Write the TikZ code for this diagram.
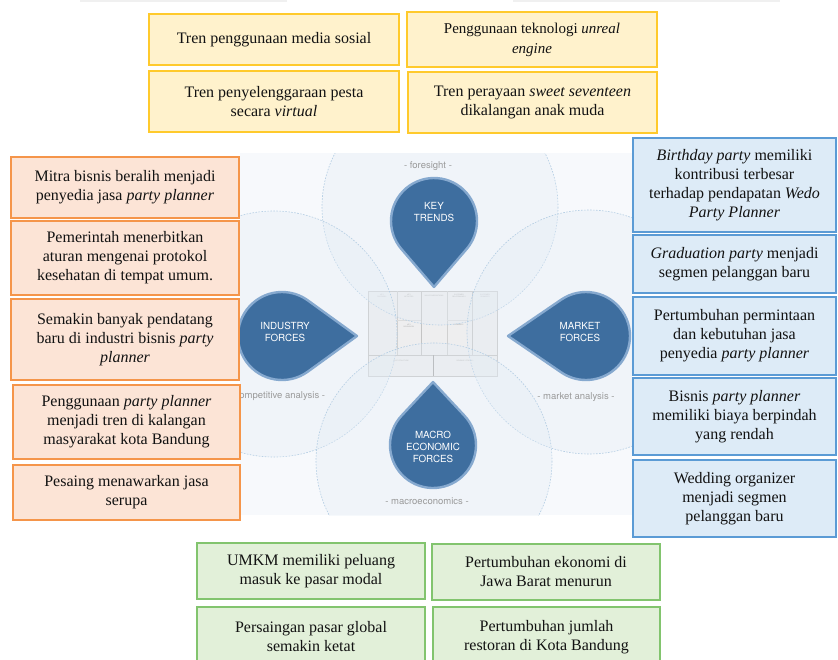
\documentclass[tikz,border=0pt]{standalone}
\usepackage{fontspec}
\setmainfont{Liberation Serif}
\setsansfont{TeX Gyre Heros}
\usetikzlibrary{calc}

\definecolor{ink}{HTML}{121212}
\definecolor{trendfill}{HTML}{FFF2CC}
\definecolor{trendline}{HTML}{FFCA2C}
\definecolor{indfill}{HTML}{FCE4D6}
\definecolor{indline}{HTML}{F5954A}
\definecolor{mktfill}{HTML}{DDEBF7}
\definecolor{mktline}{HTML}{5B9BD5}
\definecolor{macfill}{HTML}{E2F0D9}
\definecolor{macline}{HTML}{82C46E}
\definecolor{dropfill}{HTML}{3E6E9F}
\definecolor{dropring}{HTML}{86A9CF}
\definecolor{lensline}{HTML}{B3CDE3}
\definecolor{lensfill}{HTML}{E4EDF6}
\definecolor{envtint}{HTML}{F7F9FC}
\definecolor{labelgray}{HTML}{9A9A9A}
\definecolor{canvasfill}{HTML}{ECECEC}
\definecolor{canvasline}{HTML}{C4C4C4}

% a box given by its corners (x1,y1) and (x2,y2)
\newcommand\infobox[7]{%
  \node[#2, minimum width={(#5)-(#3)}, minimum height={(#6)-(#4)}]
    (#1) at ({((#3)+(#5))/2},{((#4)+(#6))/2}) {#7};}

% a drop: circle (centre #2,#3, radius #4) pointing towards angle #5, tip at distance #6
\newcommand\waterdrop[6]{%
  \coordinate (#1c) at (#2,#3);
  \coordinate (#1tip) at ($(#1c)+(#5:#6)$);
  \draw[drop] (#1tip) -- ($(#1c)+({#5+acos(#4/#6)}:#4)$)
    arc[start angle={#5+acos(#4/#6)}, delta angle={360-2*acos(#4/#6)}, radius=#4]
    -- cycle;}

\begin{document}
\begin{tikzpicture}[x=1pt,y=-1pt,
  box/.style={rectangle, inner sep=0pt, align=center, text=ink,
    font=\fontsize{16}{19}\selectfont},
  trendbox/.style={box, fill=trendfill, draw=trendline, line width=1.5pt},
  industrybox/.style={box, fill=indfill, draw=indline, line width=1.8pt},
  marketbox/.style={box, fill=mktfill, draw=mktline, line width=2.8pt},
  macrobox/.style={box, fill=macfill, draw=macline, line width=1.5pt},
  drop/.style={fill=dropfill, draw=dropring, line width=2.4pt, line join=round},
  droptext/.style={text=white, align=center,
    font=\sffamily\fontsize{9.8}{12}\selectfont},
  lens/.style={draw=lensline, line width=0.6pt, dash pattern=on 1.6pt off 1.4pt,
    fill=lensfill, fill opacity=0.35},
  lenslabel/.style={text=labelgray, font=\sffamily\fontsize{9.5}{11}\selectfont},
  cell/.style={text=gray!70, align=center, inner sep=0pt,
    font=\sffamily\fontsize{1.7}{2}\selectfont}]
\useasboundingbox (0,0) rectangle (838,659);

% faint rule along the top edge
\draw[gray!12, line width=2pt] (80,0.8) -- (287,0.8);
\draw[gray!12, line width=2pt] (513,0.8) -- (780,0.8);

% environment panel
\fill[envtint] (240,153) rectangle (632,515);

% business model canvas in the middle
\draw[canvasline, line width=0.4pt, fill=canvasfill, fill opacity=0.8]
  (368,291) rectangle (497,376);
\draw[canvasline, line width=0.5pt] (368,355) -- (497,355);
\draw[canvasline!80, line width=0.3pt] (397,291) -- (397,355);
\draw[canvasline, line width=0.6pt] (421,291) -- (421,355);
\draw[canvasline!80, line width=0.3pt] (447,291) -- (447,355);
\draw[canvasline, line width=0.6pt] (472,291) -- (472,355);
\draw[gray!70, line width=0.6pt] (433,355) -- (433,376);
\draw[canvasline!60, line width=0.3pt] (397,320) -- (421,320);
\draw[canvasline!60, line width=0.3pt] (447,320) -- (472,320);
\node[cell] (kp) at (382,296) {KEY\\PARTNERS};
\node[cell] (ka) at (409,296) {KEY\\ACTIVITIES};
\node[cell] (vp) at (434,296) {VALUE PROPOSITIONS};
\node[cell] (cr) at (459,296) {CUSTOMER\\RELATIONSHIPS};
\node[cell] (cs) at (485,296) {CUSTOMER\\SEGMENTS};
\node[cell] (kr) at (409,326) {KEY\\RESOURCES};
\node[cell] (ch) at (459,326) {CHANNELS\\};
\node[cell] (cst) at (401,361) {COST STRUCTURE};
\node[cell] (rs) at (465,361) {REVENUE STREAMS};

% four overlapping lenses
\begin{scope}
  \clip (240,153) rectangle (632,515);
  \draw[lens] (440,207) circle[radius=118];
  \draw[lens] (274,334) circle[radius=123];
  \draw[lens] (589,332) circle[radius=122];
  \draw[lens] (434,461) circle[radius=118];
\end{scope}

% lens captions
\node[lenslabel] (foresight) at (428,166) {- foresight -};
\node[lenslabel] (competitive) at (277,396) {- competitive analysis -};
\node[lenslabel] (marketlabel) at (576,397) {- market analysis -};
\node[lenslabel] (macrolabel) at (427,501) {- macroeconomics -};

% drops
\waterdrop{key}{434}{221}{43}{90}{66}
\waterdrop{ind}{282}{336}{44}{0}{75}
\waterdrop{mkt}{586}{336}{44}{180}{78}
\waterdrop{mac}{433}{445}{43}{270}{63}
\node[droptext] (keytext) at (434,212) {KEY\\TRENDS};
\node[droptext] (indtext) at (285,332) {INDUSTRY\\FORCES};
\node[droptext] (mkttext) at (580,332) {MARKET\\FORCES};
\node[droptext] (mactext) at (433,447) {MACRO\\ECONOMIC\\FORCES};

% key trends
\infobox{t1}{trendbox}{149}{14}{399}{65}{Tren penggunaan media sosial}
\infobox{t2}{trendbox, font=\fontsize{15}{20}\selectfont}{407}{12}{657}{67}{Penggunaan teknologi \textit{unreal}\\\textit{engine}}
\infobox{t3}{trendbox}{149}{71}{399}{132}{Tren penyelenggaraan pesta\\secara \textit{virtual}}
\infobox{t4}{trendbox}{408}{72}{657}{133}{Tren perayaan \textit{sweet seventeen}\\dikalangan anak muda}

% industry forces
\infobox{i1}{industrybox}{11}{157}{239}{218}{Mitra bisnis beralih menjadi\\penyedia jasa \textit{party planner}}
\infobox{i2}{industrybox}{11}{221}{239}{295}{Pemerintah menerbitkan\\aturan mengenai protokol\\kesehatan di tempat umum.}
\infobox{i3}{industrybox}{11}{299}{239}{380}{Semakin banyak pendatang\\baru di industri bisnis \textit{party}\\\textit{planner}}
\infobox{i4}{industrybox}{13}{385}{240}{459}{Penggunaan \textit{party planner}\\menjadi tren di kalangan\\masyarakat kota Bandung}
\infobox{i5}{industrybox}{13}{465}{240}{520}{Pesaing menawarkan jasa\\serupa}

% market forces
\infobox{m1}{marketbox}{633}{138}{836}{232}{\textit{Birthday party} memiliki\\kontribusi terbesar\\terhadap pendapatan \textit{Wedo}\\\textit{Party Planner}}
\infobox{m2}{marketbox}{633}{235}{836}{293}{\textit{Graduation party} menjadi\\segmen pelanggan baru}
\infobox{m3}{marketbox}{633}{297}{836}{375}{Pertumbuhan permintaan\\dan kebutuhan jasa\\penyedia \textit{party planner}}
\infobox{m4}{marketbox}{633}{378}{836}{455}{Bisnis \textit{party planner}\\memiliki biaya berpindah\\yang rendah}
\infobox{m5}{marketbox}{633}{460}{836}{537}{Wedding organizer\\menjadi segmen\\pelanggan baru}

% macroeconomic forces
\infobox{e1}{macrobox}{197}{543}{425}{599}{UMKM memiliki peluang\\masuk ke pasar modal}
\infobox{e2}{macrobox}{432}{544}{660}{600}{Pertumbuhan ekonomi di\\Jawa Barat menurun}
\infobox{e3}{macrobox}{197}{607}{425}{667}{Persaingan pasar global\\semakin ketat}
\infobox{e4}{macrobox}{433}{607}{660}{667}{Pertumbuhan jumlah\\restoran di Kota Bandung}
\end{tikzpicture}
\end{document}
